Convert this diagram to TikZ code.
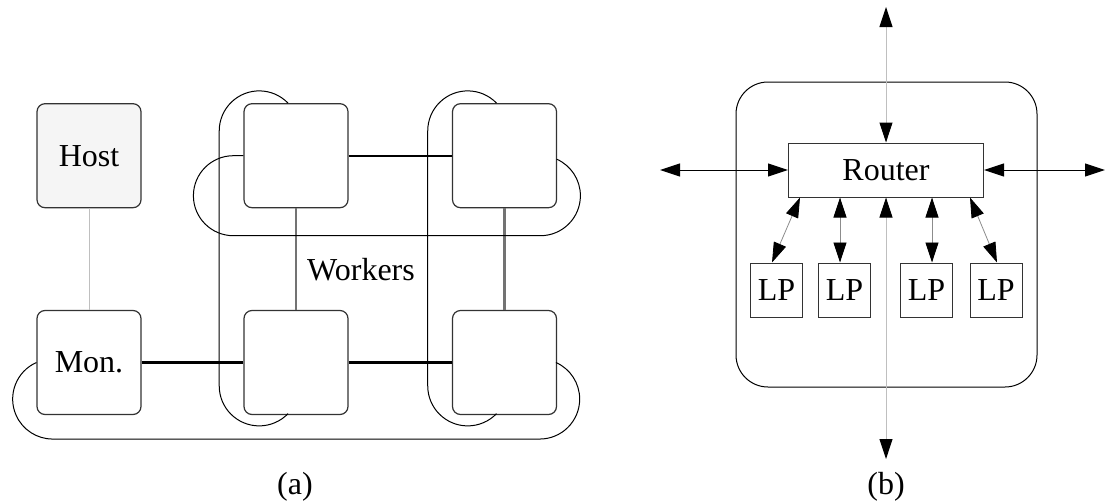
\documentclass[tikz,border=0pt]{standalone}
\usepackage{fontspec}
\setmainfont{Liberation Serif}
\usepackage{tikz}
\usetikzlibrary{positioning, shapes, arrows.meta, calc}

\tikzset{
  pbox/.style={draw=black!80, line width=0.6pt, rounded corners=4pt, fill=white,
               minimum width=52pt, minimum height=52pt, inner sep=0pt},
  lpbox/.style={draw=black!80, line width=0.5pt, minimum width=26pt, minimum height=27pt, inner sep=0pt},
  mesh/.style={line width=1.1pt},
  vmesh/.style={line width=1.1pt, black!55},
  wrap/.style={line width=0.5pt},
  light/.style={line width=0.5pt, black!25},
  lplink/.style={line width=0.4pt, black!45}
}

\begin{document}
\begin{tikzpicture}[x=0.5pt, y=-0.5pt, font=\fontsize{16}{19}\selectfont,
                    >={Triangle[length=10pt, width=6.5pt, color=black]}]
                  \useasboundingbox (0,0) rectangle (1107,503);

                  % (a) Nodes
                  \node[pbox, fill=black!4] (host) at (89,155.7) {Host};
                  \node[pbox] (mon) at (89,362.5) {Mon.};
                  \foreach \x [count=\j] in {296,504.5} {
                    \node[pbox] (w1\j) at (\x,155.7) {};
                    \node[pbox] (w2\j) at (\x,362.5) {};
                  }
                  \node[anchor=base] (workers) at (361,280) {Workers};
                  \node[anchor=base] (capa) at (295,494) {(a)};

                  % (a) Links
                  \draw[light] (host) -- (mon);
                  \draw[mesh] (w11) -- (w12);
                  \draw[mesh] (mon) -- (w21);
                  \draw[mesh] (w21) -- (w22);
                  \foreach \j in {1,2}
                  \draw[vmesh] (w1\j) -- (w2\j);

                  % (a) Wrap-around links
                  \foreach \j in {1,2}
                  \draw[wrap] ([xshift=-4pt]w1\j.north) arc[start angle=-44, end angle=-180, radius=40]
                    -- ++(0,255) arc[start angle=180, end angle=44, radius=40];
                  \draw[wrap] (w11.west) -- ++(-10,0) arc[start angle=-90, end angle=-270, radius=40]
                    -- ++(307,0) arc[start angle=90, end angle=-66, radius=40];
                  \draw[wrap] (mon.west) arc[start angle=-114, end angle=-270, radius=40]
                    -- ++(487,0) arc[start angle=90, end angle=-66, radius=40];

                  % (b) Nodes
                  \node[draw, line width=0.5pt, rounded corners=16pt, minimum width=150.5pt,
                        minimum height=152.5pt] (chip) at (886.5,234.5) {};
                  \node[draw=black!80, line width=0.5pt, minimum width=97.5pt, minimum height=27pt,
                        inner sep=0pt] (router) at (886,170) {Router};
                  \foreach \x [count=\i] in {776.5,844.5,926.5,996}
                  \node[lpbox] (lp\i) at (\x,290) {LP};
                  \coordinate (portN) at (886,7);
                  \coordinate (portS) at (886,459);
                  \coordinate (portW) at (660,170);
                  \coordinate (portE) at (1105,170);
                  \node[anchor=base] (capb) at (886,494) {(b)};

                  % (b) Arrows
                  \draw[<->, light] (portN) -- (router.north);
                  \draw[<->, light] (router.south) -- (portS);
                  \draw[<->, line width=0.5pt] (portW) -- (router.west);
                  \draw[<->, line width=0.5pt] (router.east) -- (portE);
                  \draw[<->, lplink] ([xshift=-43pt]router.south) -- ([xshift=-2.25pt]lp1.north);
                  \draw[<->, lplink] ([xshift=-23pt]router.south) -- ([xshift=-23pt]router.south |- lp2.north);
                  \draw[<->, lplink] ([xshift=23pt]router.south) -- ([xshift=23pt]router.south |- lp3.north);
                  \draw[<->, lplink] ([xshift=42pt]router.south) -- ([xshift=0.5pt]lp4.north);
              \end{tikzpicture}
\end{document}
